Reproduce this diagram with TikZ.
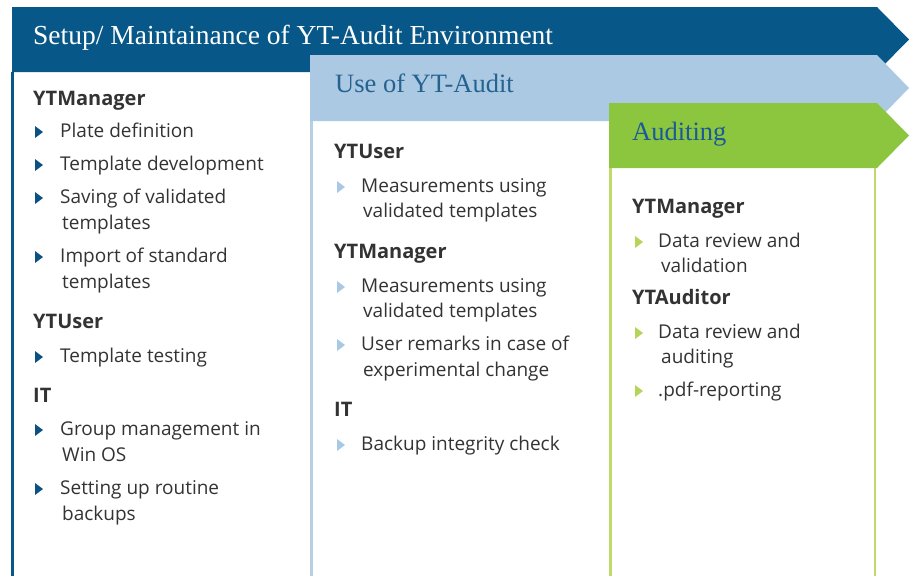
\documentclass[tikz,border=0pt]{standalone}
\usepackage{fontspec}
\setmainfont{Open Sans}
\newfontfamily\bannerfont{Liberation Serif}
\definecolor{setupblue}{HTML}{075888}
\definecolor{useblue}{HTML}{ABC9E2}
\definecolor{auditgreen}{HTML}{8CC63F}
\definecolor{auditline}{HTML}{BFD96A}
\definecolor{useline}{HTML}{B4CFE6}
\definecolor{usetext}{HTML}{24628F}
\definecolor{audittext}{HTML}{1B5A98}
\definecolor{bodytext}{HTML}{333333}
\definecolor{bulletblue}{HTML}{0B5282}
\definecolor{bulletlight}{HTML}{A9C8E3}
\definecolor{bulletgreen}{HTML}{B5D55A}
\tikzset{
  banner/.style={font=\bannerfont\fontsize{27.5}{30}\selectfont, anchor=mid west, inner sep=0pt, yshift=-5pt},
  head/.style={font=\bfseries\fontsize{20}{22}\selectfont, text=bodytext, anchor=mid west, inner sep=0pt, yshift=-4pt},
  entry/.style={font=\fontsize{19}{22}\selectfont, text=bodytext, anchor=mid west, inner sep=0pt, yshift=-4pt},
}
% bullet triangle centred vertically on y
\newcommand\bul[3]{\fill[#1] (#2,#3-5) -- (#2+8,#3+1) -- (#2,#3+7) -- cycle;}
\begin{document}
\begin{tikzpicture}[x=1pt,y=-1pt]
\useasboundingbox (0,0) rectangle (917,576);
% ---- setup / maintenance column
\fill[setupblue] (12,7) -- (877,7) -- (909,39.5) -- (877,72) -- (12,72) -- cycle;
\draw[setupblue, line width=2.5pt] (12.5,72) -- (12.5,576);
\node[banner, text=white] (t1) at (33,37) {Setup/ Maintainance of YT-Audit Environment};
% ---- use column
\fill[white] (310,121) rectangle (878,576);
\fill[useblue] (310,55) -- (877,55) -- (909,88) -- (877,121) -- (310,121) -- cycle;
\draw[useline, line width=3pt] (311.5,121) -- (311.5,576);
\node[banner, text=usetext, font=\bannerfont\fontsize{26.5}{30}\selectfont] (t2) at (335,85) {Use of YT-Audit};
% ---- auditing column
\fill[white] (609,168) rectangle (876,576);
\fill[auditgreen] (609,103) -- (877,103) -- (909,135.5) -- (877,168) -- (609,168) -- cycle;
\draw[auditline, line width=2.5pt] (610.5,168) -- (610.5,576);
\draw[auditline, line width=2.5pt] (875,168) -- (875,576);
\node[banner, text=audittext, font=\bannerfont\fontsize{26.5}{30}\selectfont] (t3) at (632,133) {Auditing};

% ---- left column text
\node[head] (a1) at (33,99) {YTManager};
\bul{bulletblue}{35}{131}
\node[entry] (a2) at (60,131) {Plate definition};
\bul{bulletblue}{35}{164}
\node[entry] (a3) at (60,164) {Template development};
\bul{bulletblue}{35}{197}
\node[entry] (a4) at (60,197) {Saving of validated};
\node[entry] (a4b) at (62,223) {templates};
\bul{bulletblue}{35}{256}
\node[entry] (a5) at (60,256) {Import of standard};
\node[entry] (a5b) at (62,282) {templates};
\node[head] (a6) at (33,322) {YTUser};
\bul{bulletblue}{35}{356}
\node[entry] (a7) at (60,356) {Template testing};
\node[head] (a8) at (33,396) {IT};
\bul{bulletblue}{35}{429}
\node[entry] (a9) at (60,429) {Group management in};
\node[entry] (a9b) at (62,455) {Win OS};
\bul{bulletblue}{35}{488}
\node[entry] (a10) at (60,488) {Setting up routine};
\node[entry] (a10b) at (62,514) {backups};

% ---- middle column text
\node[head] (b1) at (334,152) {YTUser};
\bul{bulletlight}{337}{186}
\node[entry] (b2) at (361,186) {Measurements using};
\node[entry] (b2b) at (363,211) {validated templates};
\node[head] (b3) at (334,252) {YTManager};
\bul{bulletlight}{337}{286}
\node[entry] (b4) at (361,286) {Measurements using};
\node[entry] (b4b) at (363,311) {validated templates};
\bul{bulletlight}{337}{344}
\node[entry] (b5) at (361,344) {User remarks in case of};
\node[entry] (b5b) at (363,370) {experimental change};
\node[head] (b6) at (334,410) {IT};
\bul{bulletlight}{337}{444}
\node[entry] (b7) at (361,444) {Backup integrity check};

% ---- right column text
\node[head] (c1) at (632,207) {YTManager};
\bul{bulletgreen}{635}{241}
\node[entry] (c2) at (658,241) {Data review and};
\node[entry] (c2b) at (661,266) {validation};
\node[head] (c3) at (632,298) {YTAuditor};
\bul{bulletgreen}{635}{332}
\node[entry] (c4) at (658,332) {Data review and};
\node[entry] (c4b) at (661,357) {auditing};
\bul{bulletgreen}{635}{390}
\node[entry] (c5) at (658,390) {.pdf-reporting};
\end{tikzpicture}
\end{document}
